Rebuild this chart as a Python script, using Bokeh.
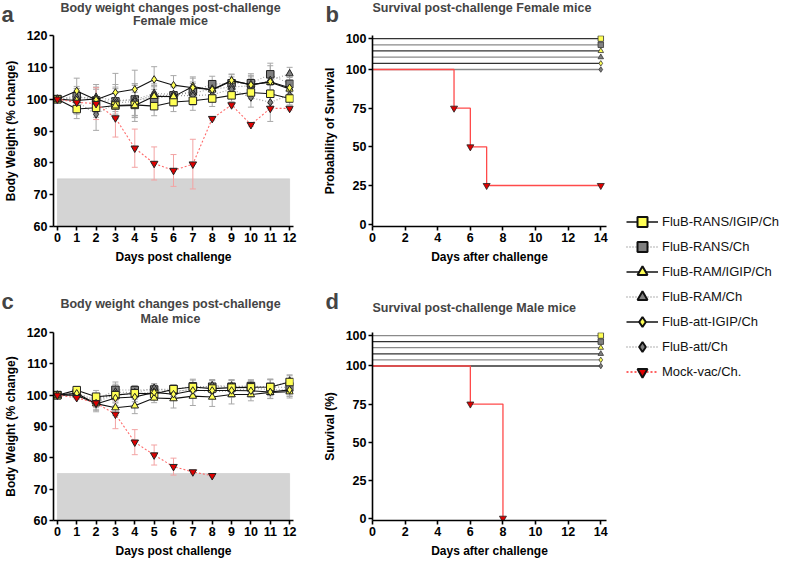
import numpy as np
from bokeh.plotting import figure
from bokeh.models import (ColumnDataSource, Whisker, TeeHead, BoxAnnotation, Label,
                          FixedTicker, Legend, LegendItem, Range1d)
from bokeh.layouts import row, column
from bokeh.embed import file_html
from bokeh.resources import INLINE

# ---------------- data ----------------
days = list(range(13))
groups = ["FluB-RANS/IGIP/Ch", "FluB-RANS/Ch", "FluB-RAM/IGIP/Ch", "FluB-RAM/Ch",
          "FluB-att-IGIP/Ch", "FluB-att/Ch", "Mock-vac/Ch."]

female_mean = {
    "FluB-RANS/IGIP/Ch": [100, 96.9, 97.3, 98.0, 98.2, 97.8, 99.1, 99.5, 100.2, 101.2, 102.1, 101.7, 100.2],
    "FluB-RANS/Ch":      [100, 101.0, 99.6, 99.3, 99.9, 100.1, 101.2, 102.4, 104.7, 105.0, 105.0, 107.8, 104.8],
    "FluB-RAM/IGIP/Ch":  [100, 99.6, 100.1, 97.9, 98.0, 100.9, 100.8, 104.0, 102.9, 105.7, 104.6, 105.3, 103.2],
    "FluB-RAM/Ch":       [100, 100.4, 100.6, 99.6, 99.8, 101.8, 101.5, 101.9, 103.2, 103.8, 104.2, 105.9, 108.0],
    "FluB-att-IGIP/Ch":  [100, 102.6, 99.8, 102.1, 103.1, 106.2, 104.4, 103.6, 103.0, 105.9, 104.5, 105.5, 103.6],
    "FluB-att/Ch":       [100, 99.3, 95.2, 98.8, 99.3, 101.3, 101.1, 101.1, 101.4, 103.1, 100.5, 99.0, 101.3],
    "Mock-vac/Ch.":      [100, 99.0, 98.6, 94.1, 84.6, 79.8, 77.6, 79.6, 93.9, 98.2, 92.0, 97.1, 97.1],
}
female_err = {
    "FluB-RANS/IGIP/Ch": [0, 3.0, 3.0, 4.0, 4.0, 3.0, 3.0, 3.0, 2.5, 2.0, 2.0, 3.0, 2.0],
    "FluB-RANS/Ch":      [0, 3.0, 4.0, 4.0, 5.0, 3.0, 3.0, 3.0, 2.5, 2.0, 3.0, 3.5, 2.0],
    "FluB-RAM/IGIP/Ch":  [0, 3.0, 3.0, 4.0, 5.0, 3.0, 3.0, 3.0, 2.5, 2.0, 2.0, 3.0, 2.0],
    "FluB-RAM/Ch":       [0, 3.0, 4.0, 5.0, 5.0, 3.0, 3.0, 3.0, 2.0, 2.0, 3.0, 3.0, 2.0],
    "FluB-att-IGIP/Ch":  [0, 4.0, 4.0, 6.0, 6.0, 4.0, 3.0, 3.0, 2.0, 2.0, 3.0, 5.0, 2.0],
    "FluB-att/Ch":       [0, 4.0, 5.0, 5.0, 5.0, 3.0, 3.0, 3.0, 2.0, 2.0, 3.0, 6.0, 2.0],
    "Mock-vac/Ch.":      [0, 1.0, 5.0, 6.0, 6.0, 5.2, 5.0, 7.8, 0.5, 0.5, 0.5, 0.5, 0.5],
}
male_mean = {
    "FluB-RANS/IGIP/Ch": [100, 101.6, 99.5, 100.0, 100.6, 100.4, 101.9, 102.6, 102.1, 102.4, 102.5, 102.6, 104.2],
    "FluB-RANS/Ch":      [100, 100.7, 98.4, 101.7, 101.6, 101.8, 101.9, 102.8, 102.7, 102.7, 102.9, 102.6, 102.5],
    "FluB-RAM/IGIP/Ch":  [100, 100.0, 97.3, 96.0, 96.6, 99.1, 98.9, 99.7, 99.4, 100.2, 100.2, 100.9, 101.1],
    "FluB-RAM/Ch":       [100, 100.3, 98.0, 101.0, 100.8, 102.2, 101.0, 102.0, 103.0, 102.9, 102.8, 102.4, 104.5],
    "FluB-att-IGIP/Ch":  [100, 100.6, 97.2, 99.1, 99.4, 100.9, 100.3, 101.5, 101.5, 101.5, 101.4, 101.0, 101.7],
    "FluB-att/Ch":       [100, 99.9, 97.7, 100.3, 100.2, 101.2, 101.2, 101.8, 101.1, 101.4, 102.2, 101.8, 101.6],
    "Mock-vac/Ch.":      [100, 99.2, 97.5, 93.9, 85.0, 80.9, 77.2, 75.5, 74.3],
}
male_err = {
    "FluB-RANS/IGIP/Ch": [0, 1.2, 2.0, 2.5, 1.5, 1.5, 1.5, 2.5, 2.5, 2.5, 2.0, 2.5, 2.0],
    "FluB-RANS/Ch":      [0, 1.0, 2.0, 2.5, 1.5, 1.5, 1.5, 2.0, 2.0, 2.0, 2.0, 2.5, 2.0],
    "FluB-RAM/IGIP/Ch":  [0, 1.0, 2.0, 2.5, 2.5, 1.5, 3.0, 3.0, 3.0, 3.0, 2.0, 2.0, 2.0],
    "FluB-RAM/Ch":       [0, 1.0, 2.0, 2.5, 1.5, 1.5, 1.5, 2.0, 2.0, 2.0, 2.0, 2.5, 2.0],
    "FluB-att-IGIP/Ch":  [0, 1.0, 2.5, 2.5, 1.5, 1.5, 1.5, 2.0, 2.0, 2.0, 2.0, 2.0, 2.0],
    "FluB-att/Ch":       [0, 1.0, 2.5, 2.5, 1.5, 1.5, 1.5, 2.0, 2.0, 2.0, 2.0, 2.0, 2.0],
    "Mock-vac/Ch.":      [0, 0.5, 1.0, 4.6, 4.0, 3.2, 2.7, 0.5, 0.3],
}
threshold = 75

flub_surv_days = [0, 14]
flub_surv = [100, 100]
female_mock_days = [0, 5, 6, 7, 14]
female_mock_surv = [100, 75, 50, 25, 25]
male_mock_days = [0, 6, 8]
male_mock_surv = [100, 75, 0]

weight_title = "Body weight changes post-challenge"

# ---------------- styles ----------------
FONT = "Liberation Sans"
YEL = "#ffff55"
GRY = "#808080"
RED = "#e00000"
styles = {
    "FluB-RANS/IGIP/Ch": dict(marker="square", fill=YEL, line="#111111", dash="solid", lw=1.1),
    "FluB-RANS/Ch":      dict(marker="square", fill=GRY, line="#9a9a9a", dash="1 2", lw=1.1),
    "FluB-RAM/IGIP/Ch":  dict(marker="triangle", fill=YEL, line="#111111", dash="solid", lw=1.1),
    "FluB-RAM/Ch":       dict(marker="triangle", fill=GRY, line="#9a9a9a", dash="1 2", lw=1.1),
    "FluB-att-IGIP/Ch":  dict(marker="diamond", fill=YEL, line="#111111", dash="solid", lw=1.1),
    "FluB-att/Ch":       dict(marker="diamond", fill=GRY, line="#9a9a9a", dash="1 2", lw=1.1),
    "Mock-vac/Ch.":      dict(marker="inverted_triangle", fill=RED, line="#ff6a6a", dash="2 2", lw=1.1),
}
draw_order = ["FluB-RANS/Ch", "FluB-RAM/Ch", "FluB-att/Ch",
              "FluB-RANS/IGIP/Ch", "FluB-RAM/IGIP/Ch", "FluB-att-IGIP/Ch", "Mock-vac/Ch."]


def style_axes(p):
    p.outline_line_color = None
    p.grid.visible = False
    for ax in p.axis:
        ax.axis_line_width = 1.6
        ax.axis_line_color = "black"
        ax.major_tick_line_width = 1.6
        ax.major_tick_in = 0
        ax.major_tick_out = 4
        ax.minor_tick_line_color = None
        ax.major_label_text_font = FONT
        ax.major_label_text_font_style = "bold"
        ax.major_label_text_font_size = "12.5px"
        ax.major_label_text_color = "black"
        ax.major_label_standoff = 2
        ax.axis_label_text_font = FONT
        ax.axis_label_text_font_style = "bold"
        ax.axis_label_text_font_size = "12px"
        ax.axis_label_text_color = "black"


def weight_panel(means, errs, height, btop, bbot):
    p = figure(width=300, height=height, x_range=Range1d(-0.2, 12.2), y_range=Range1d(60, 120),
               output_backend="svg", toolbar_location=None, title=None,
               min_border_left=53, min_border_right=7, min_border_top=btop, min_border_bottom=bbot)
    style_axes(p)
    p.xaxis.ticker = FixedTicker(ticks=days)
    p.yaxis.ticker = FixedTicker(ticks=[60, 70, 80, 90, 100, 110, 120])
    p.xaxis.axis_label = "Days post challenge"
    p.yaxis.axis_label = "Body Weight (% change)"
    p.xaxis.axis_label_standoff = 5
    p.yaxis.axis_label_standoff = 6
    p.add_layout(BoxAnnotation(left=0, right=12, bottom=60, top=threshold, fill_color="#d4d4d4",
                               fill_alpha=1, line_color="#b0b0b0", line_width=1, level="underlay"))
    for g in draw_order:
        m = np.array(means[g])
        e = np.array(errs[g])
        x = days[:len(m)]
        src = ColumnDataSource(dict(x=x, y=m, up=m + e, lo=m - e))
        ecol = "#f3a3a3" if g.startswith("Mock") else "#a8a8a8"
        p.add_layout(Whisker(source=src, base="x", upper="up", lower="lo", line_color=ecol,
                             line_width=1,
                             upper_head=TeeHead(size=6, line_color=ecol, line_width=1),
                             lower_head=TeeHead(size=6, line_color=ecol, line_width=1)))
    for g in draw_order:
        st = styles[g]
        m = np.array(means[g])
        x = days[:len(m)]
        src = ColumnDataSource(dict(x=x, y=m))
        p.line("x", "y", source=src, line_color=st["line"], line_dash=st["dash"], line_width=st["lw"])
        p.scatter("x", "y", source=src, marker=st["marker"], size=7.5, fill_color=st["fill"],
                  line_color="#222222", line_width=1)
    return p


def surv_panel(ylabel, mdays, msurv, height, btop, bbot, line_cols):
    p = figure(width=310, height=height, x_range=Range1d(0, 14.35), y_range=Range1d(-1.5, 122),
               output_backend="svg", toolbar_location=None, title=None,
               min_border_left=72, min_border_right=4, min_border_top=btop, min_border_bottom=bbot)
    style_axes(p)
    p.xaxis.ticker = FixedTicker(ticks=[0, 2, 4, 6, 8, 10, 12, 14])
    p.yaxis.ticker = FixedTicker(ticks=[0, 25, 50, 75, 100, 120])
    p.yaxis.major_label_overrides = {120: "100"}
    p.xaxis.axis_label = "Days after challenge"
    p.yaxis.axis_label = ylabel
    p.xaxis.axis_label_standoff = 5
    p.yaxis.axis_label_standoff = 6
    flub = groups[:6]
    for i, g in enumerate(flub):
        st = styles[g]
        off = (len(flub) - 1 - i) * 4  # GraphPad-style vertical offset between curves
        y = np.array(flub_surv) + off
        p.line(flub_surv_days, y, line_color=line_cols[i], line_width=1.3)
        p.scatter([flub_surv_days[-1]], [y[-1]], marker=st["marker"], size=5.5,
                  fill_color=st["fill"], line_color="#333333", line_width=0.8)
    p.step(mdays, msurv, mode="after", line_color="#ff4a4a", line_width=1.3)
    p.scatter(mdays[1:], msurv[1:], marker="inverted_triangle", size=7, fill_color=RED,
              line_color="#222222", line_width=0.8)
    return p


def strip(height, texts):
    """A thin axis-less figure that carries the panel letters and titles."""
    s = figure(width=610, height=height, x_axis_type=None, y_axis_type=None,
               output_backend="svg", toolbar_location=None, title=None, min_border=0)
    s.outline_line_color = None
    s.grid.visible = False
    for (txt, x, y, size, align) in texts:
        s.add_layout(Label(x=x, y=y, x_units="screen", y_units="screen", text=txt,
                           text_font=FONT, text_font_style="bold", text_font_size=size,
                           text_align=align, text_baseline="middle"))
    s.scatter([np.nan], [np.nan], size=0)
    return s


top = strip(28, [
    ("a", 1, 14, "22px", "left"),
    (weight_title, 170, 21, "12.5px", "center"),
    ("Female mice", 170, 8, "12.5px", "center"),
    ("b", 325, 14, "22px", "left"),
    ("Survival post-challenge Female mice", 372, 21, "12.5px", "left"),
])
mid = strip(56, [
    ("c", 1, 25, "22px", "left"),
    (weight_title, 170, 23, "12.5px", "center"),
    ("Male mice", 170, 8, "12.5px", "center"),
    ("d", 325, 25, "22px", "left"),
    ("Survival post-challenge Male mice", 372, 19, "12.5px", "left"),
])

pa = weight_panel(female_mean, female_err, 242, 7, 44)
pb = surv_panel("Probability of Survival", female_mock_days, female_mock_surv, 242, 7, 44,
                ["#333333", "#8a8a8a", "#333333", "#8a8a8a", "#333333", "#8a8a8a"])
pc = weight_panel(male_mean, male_err, 234, 6, 40)
pd = surv_panel("Survival (%)", male_mock_days, male_mock_surv, 234, 6, 40,
                ["#8a8a8a", "#333333", "#8a8a8a", "#333333", "#8a8a8a", "#333333"])

# ---------------- legend panel ----------------
lf = figure(width=174, height=560, x_range=(0, 1), y_range=(0, 1), x_axis_type=None,
            y_axis_type=None, output_backend="svg", toolbar_location=None, title=None, min_border=0)
lf.outline_line_color = None
lf.grid.visible = False
items = []
for g in groups:
    st = styles[g]
    lcol = "#111111" if st["dash"] == "solid" else ("#ff3030" if g.startswith("Mock") else "#999999")
    nan_src = ColumnDataSource(dict(x=[np.nan], y=[np.nan]))
    lr = lf.line("x", "y", source=nan_src, line_color=lcol, line_dash=st["dash"], line_width=1.6)
    sr = lf.scatter("x", "y", source=nan_src, marker=st["marker"], size=12, fill_color=st["fill"],
                    line_color="#111111", line_width=2)
    items.append(LegendItem(label=g, renderers=[lr, sr]))
leg = Legend(items=items, location=(16, 176), glyph_width=32, glyph_height=25, spacing=0,
             label_standoff=4, label_height=20, padding=0, margin=0, border_line_color=None,
             background_fill_alpha=0, label_text_font=FONT, label_text_font_size="13px",
             label_text_color="#111111")
lf.add_layout(leg)

layout = row(column(top, row(pa, pb), mid, row(pc, pd)), lf)
open("out.html", "w").write(file_html(layout, INLINE))
